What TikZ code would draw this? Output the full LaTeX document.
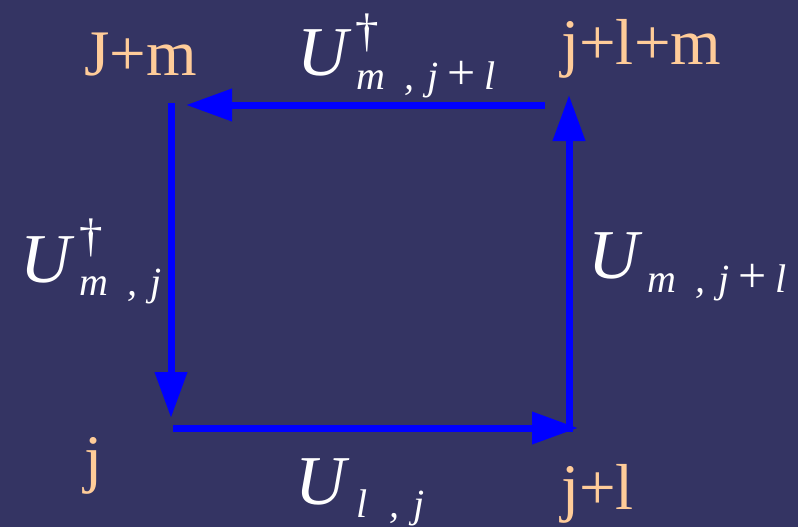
\documentclass[tikz,border=0pt]{standalone}
\usepackage{fontspec}
\setmainfont{Liberation Serif}
\usetikzlibrary{arrows.meta}
\definecolor{bg}{RGB}{52,52,99}
\definecolor{peach}{RGB}{255,204,153}
\definecolor{arrowblue}{RGB}{0,0,255}
\newcommand{\bigplus}{{\upshape\fontsize{50}{50}\selectfont +}}
\begin{document}
\begin{tikzpicture}[x=1pt,y=-1pt,
  vert/.style={text=peach, font=\fontsize{65}{78}\selectfont, anchor=base west, inner sep=0pt},
  ubig/.style={text=white, font=\fontsize{70}{84}\selectfont\itshape, anchor=base west, inner sep=0pt},
  dag/.style={text=white, font=\fontsize{47}{56}\selectfont, anchor=base west, inner sep=0pt},
  sub/.style={text=white, font=\fontsize{40}{48}\selectfont\itshape, anchor=base west, inner sep=0pt},
  link/.style={draw=arrowblue, line width=7pt, -{Triangle[length=46pt,width=31pt]}, fill=arrowblue}]
\fill[bg] (0,0) rectangle (798,527);
\useasboundingbox (0,0) rectangle (798,527);

% corner labels
\node[vert] (njm)  at (84,75)   {J+m};
\node[vert] (njlm) at (561,65)  {j+l+m};
\node[vert] (nj)   at (84,480)  {j};
\node[vert] (njl)  at (561,509) {j+l};

% arrow end points
\coordinate (lt) at (171,103);
\coordinate (lb) at (171,418);
\coordinate (bl) at (173,428);
\coordinate (br) at (578,428);
\coordinate (rb) at (569,432);
\coordinate (rt) at (569,95);
\coordinate (tr) at (545,105);
\coordinate (tl) at (186,105);

\path[link] (lt) -- (lb);
\path[link] (bl) -- (br);
\path[link] (rb) -- (rt);
\path[link] (tr) -- (tl);

% top label
\node[ubig] (tU) at (297,75) {U};
\node[dag]  (tD) at (355,47) {†};
\node[sub]  (tS) at (356,89) {m\hspace{19pt},\hspace{13pt}j\hspace{9pt}\bigplus\hspace{9pt}l};

% left label
\node[ubig] (lU) at (20,282) {U};
\node[dag]  (lD) at (79,251) {†};
\node[sub]  (lS) at (79,295) {m\hspace{19pt},\hspace{13pt}j};

% right label
\node[ubig] (rU) at (588,278) {U};
\node[sub]  (rS) at (647,292) {m\hspace{19pt},\hspace{13pt}j\hspace{9pt}\bigplus\hspace{9pt}l};

% bottom label
\node[ubig] (bU) at (295,504) {U};
\node[sub]  (bS) at (356,517) {l\hspace{22pt},\hspace{14pt}j};
\end{tikzpicture}
\end{document}
